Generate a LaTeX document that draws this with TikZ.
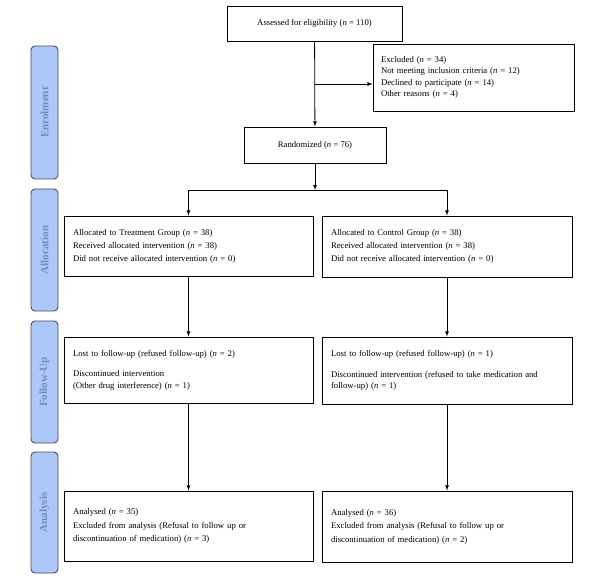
\documentclass[tikz,border=0pt]{standalone}
\usepackage{fontspec}
\setmainfont{Liberation Serif}
\usepackage{tikz}
\usetikzlibrary{arrows}
\usetikzlibrary{arrows.meta}
\usepackage{xcolor}
\definecolor{barfill}{RGB}{172,200,248}
\definecolor{bartext}{RGB}{112,140,196}
\definecolor{barline}{RGB}{70,74,86}
\newcommand{\ncount}[1]{(\textit{n} = #1)}

\begin{document}
\begin{tikzpicture}[x=1pt,y=-1pt]
\tikzstyle{every node}=[font=\fontsize{8.7}{11.5}\selectfont]
\tikzstyle{box}=[draw,line width=0.9pt,inner sep=0pt,align=left]
\tikzstyle{stage}=[draw=barline,fill=barfill,line width=0.9pt,rounded corners=4pt,
  rotate=90,minimum height=27pt,inner sep=0pt,text=bartext,
  font=\fontsize{11}{13}\selectfont\bfseries]
\tikzstyle{flow}=[line width=0.8pt,arrows={-latex}]
\useasboundingbox (0,0) rectangle (592,580);
% stages
\node[stage,minimum width=133pt] (enrol) at (44.5,112.5) {Enrolment};
\node[stage,minimum width=122pt] (alloc) at (44.5,250) {Allocation};
\node[stage,minimum width=122pt] (fu) at (44.5,382) {Follow-Up};
\node[stage,minimum width=121pt] (anal) at (44.5,512.5) {Analysis};
% enrolment
\node[box,minimum width=175pt,minimum height=35pt,align=center] (assess) at (314.5,23.5)
  {Assessed for eligibility \ncount{110}};
\node[box,minimum width=201pt,minimum height=67pt,text width=185pt,inner xsep=8pt] (excl) at (473.5,77.5)
  {Excluded \ncount{34}\\
   Not meeting inclusion criteria \ncount{12}\\
   Declined to participate \ncount{14}\\
   Other reasons \ncount{4}};
\node[box,minimum width=142pt,minimum height=36pt,align=center] (rand) at (315,145)
  {Randomized \ncount{76}};
% allocation
\node[box,minimum width=249pt,minimum height=60pt,text width=231pt,inner xsep=9pt,
  font=\fontsize{8.7}{13}\selectfont] (trt) at (188.5,246)
  {Allocated to Treatment Group \ncount{38}\\
   Received allocated intervention \ncount{38}\\
   Did not receive allocated intervention \ncount{0}};
\node[box,minimum width=250pt,minimum height=61pt,text width=232pt,inner xsep=9pt,
  font=\fontsize{8.7}{13}\selectfont] (ctl) at (447,246.5)
  {Allocated to Control Group \ncount{38}\\
   Received allocated intervention \ncount{38}\\
   Did not receive allocated intervention \ncount{0}};
% follow-up
\node[box,minimum width=249pt,minimum height=66pt,text width=231pt,inner xsep=9pt] (trtfu) at (188.5,370)
  {Lost to follow-up (refused follow-up) \ncount{2}\\[9pt]
   Discontinued intervention\\
   (Other drug interference) \ncount{1}};
\node[box,minimum width=250pt,minimum height=67pt,text width=232pt,inner xsep=9pt] (ctlfu) at (447,370.5)
  {Lost to follow-up (refused follow-up) \ncount{1}\\[9pt]
   Discontinued intervention (refused to take medication and\\
   follow-up) \ncount{1}};
% analysis
\node[box,minimum width=249pt,minimum height=70pt,text width=231pt,inner xsep=9pt,
  font=\fontsize{8.7}{13.5}\selectfont] (trtan) at (188.5,526)
  {Analysed \ncount{35}\\
   Excluded from analysis (Refusal to follow up or\\
   discontinuation of medication) \ncount{3}};
\node[box,minimum width=250pt,minimum height=71pt,text width=232pt,inner xsep=9pt,
  font=\fontsize{8.7}{13.5}\selectfont] (ctlan) at (447,526.5)
  {Analysed \ncount{36}\\
   Excluded from analysis (Refusal to follow up or\\
   discontinuation of medication) \ncount{2}};
% connectors
\coordinate (out) at (315,84);
\coordinate (split) at (315,190);
\draw[flow] (assess) -- (rand);
\draw[flow] (out) -- (out -| excl.west);
\draw[flow] (rand) -- (split);
\draw[flow] (split) -| (trt);
\draw[flow] (split) -| (ctl);
\draw[flow] (trt) -- (trtfu);
\draw[flow] (ctl) -- (ctlfu);
\draw[flow] (trtfu) -- (trtan);
\draw[flow] (ctlfu) -- (ctlan);
\end{tikzpicture}
\end{document}
